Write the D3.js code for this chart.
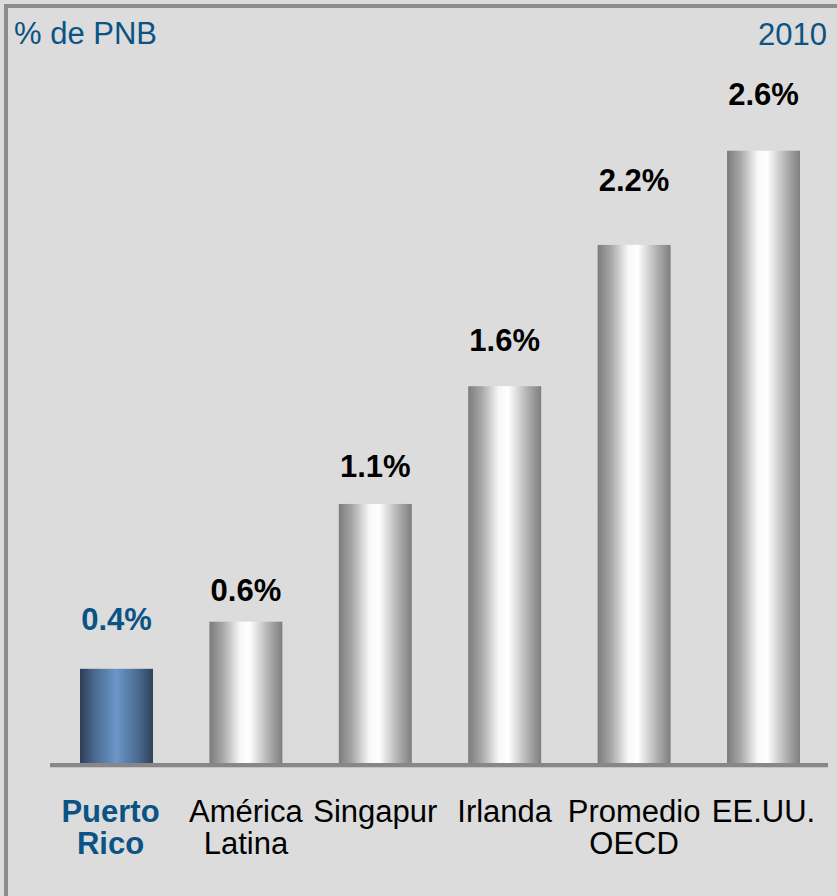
<!DOCTYPE html>
<html>
<head>
<meta charset="utf-8" />
<title>% de PNB 2010</title>
<style>
body { margin: 0; background: #dcdcdc; }
text { font-family: "Liberation Sans", Arial, sans-serif; }
</style>
</head>
<body>
<div id="chart"></div>
<script src="https://cdn.jsdelivr.net/npm/d3@7/dist/d3.min.js"></script>
<script>
// data
var categories = ['Puerto Rico', 'América Latina', 'Singapur', 'Irlanda', 'Promedio OECD', 'EE.UU.'];
var labelLines = [['Puerto', 'Rico'], ['América', 'Latina'], ['Singapur'], ['Irlanda'], ['Promedio', 'OECD'], ['EE.UU.']];
var values = [0.4, 0.6, 1.1, 1.6, 2.2, 2.6];
var valueLabels = ['0.4%', '0.6%', '1.1%', '1.6%', '2.2%', '2.6%'];

// layout: gap (px) between bar top and its value label baseline
var labelGap = [39, 21, 27, 35, 54, 46];

var width = 837, height = 896;
var blue = '#0b5384';

var svg = d3.select('#chart').append('svg')
  .attr('width', width).attr('height', height);

var defs = svg.append('defs');
function grad(id, stops) {
  var g = defs.append('linearGradient').attr('id', id)
    .attr('x1', '0%').attr('x2', '100%').attr('y1', '0%').attr('y2', '0%');
  stops.forEach(function(s) {
    g.append('stop').attr('offset', s[0]).attr('stop-color', s[1]);
  });
}
grad('silver', [[0, '#7c7c7c'], [0.18, '#a6a6a6'], [0.42, '#f8f8f8'], [0.55, '#ffffff'], [0.8, '#b4b4b4'], [1, '#7e7e7e']]);
grad('steel', [[0, '#2c3d56'], [0.2, '#4a6a90'], [0.5, '#6a97c8'], [0.8, '#4a6a90'], [1, '#2f405a']]);

// frame
svg.append('rect').attr('width', width).attr('height', height).attr('fill', '#dcdcdc');
svg.append('rect').attr('x', 4).attr('y', 4).attr('width', width - 4).attr('height', 4).attr('fill', '#8c8c8c');
svg.append('rect').attr('x', 4).attr('y', 4).attr('width', 4).attr('height', height - 4).attr('fill', '#8c8c8c');

var x = d3.scaleBand().domain(categories).range([80, 800]).paddingInner(0.436).paddingOuter(0);
var y = d3.scaleLinear().domain([0, 3]).range([763, 56.5]);

svg.selectAll('rect.bar').data(values).enter().append('rect')
  .attr('class', 'bar')
  .attr('x', function(d, i) { return x(categories[i]); })
  .attr('width', x.bandwidth())
  .attr('y', function(d) { return y(d); })
  .attr('height', function(d) { return y(0) - y(d); })
  .attr('fill', function(d, i) { return i === 0 ? 'url(#steel)' : 'url(#silver)'; });

// baseline
svg.append('rect').attr('x', 50).attr('y', y(0)).attr('width', 778).attr('height', 4).attr('fill', '#878787');
svg.append('rect').attr('x', 50).attr('y', y(0) + 4).attr('width', 778).attr('height', 1).attr('fill', '#c4c4c4');

// value labels
svg.selectAll('text.val').data(values).enter().append('text')
  .attr('class', 'val')
  .attr('x', function(d, i) { return x(categories[i]) + x.bandwidth() / 2; })
  .attr('y', function(d, i) { return y(d) - labelGap[i]; })
  .attr('text-anchor', 'middle')
  .attr('font-size', 31).attr('font-weight', 'bold')
  .attr('fill', function(d, i) { return i === 0 ? blue : '#000'; })
  .text(function(d, i) { return valueLabels[i]; });

// category labels
var cat = svg.selectAll('text.cat').data(categories).enter().append('text')
  .attr('class', 'cat')
  .attr('text-anchor', 'middle')
  .attr('font-size', 31)
  .attr('font-weight', function(d, i) { return i === 0 ? 'bold' : 'normal'; })
  .attr('fill', function(d, i) { return i === 0 ? blue : '#000'; });
cat.each(function(d, i) {
  var cx = x(d) + x.bandwidth() / 2;
  d3.select(this).selectAll('tspan').data(labelLines[i]).enter().append('tspan')
    .attr('x', i === 0 ? cx - 6 : cx)
    .attr('y', function(l, j) { return 822 + j * 32; })
    .text(function(l) { return l; });
});

// titles
svg.append('text').attr('x', 14).attr('y', 44).attr('font-size', 31).attr('fill', blue).text('% de PNB');
svg.append('text').attr('x', 827).attr('y', 45).attr('text-anchor', 'end').attr('font-size', 31).attr('fill', blue).text('2010');
</script>
</body>
</html>
